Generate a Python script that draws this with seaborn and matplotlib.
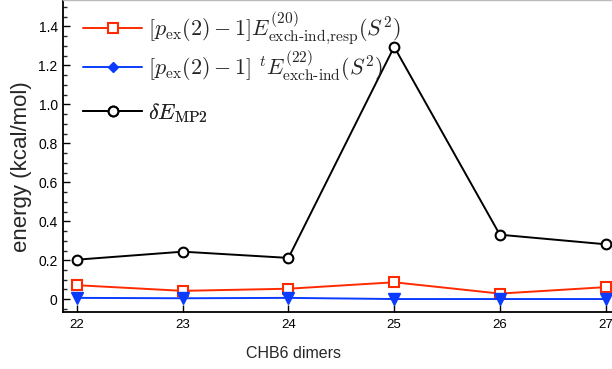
import numpy as np
import pandas as pd
import seaborn as sns
import matplotlib
matplotlib.use("Agg")
import matplotlib.pyplot as plt
from matplotlib.lines import Line2D
from matplotlib.ticker import MultipleLocator, FuncFormatter

dimers = [22, 23, 24, 25, 26, 27]
resp_vals = [0.072, 0.043, 0.054, 0.087, 0.029, 0.062]
ind22_vals = [0.007, 0.005, 0.007, 0.001, 0.001, 0.001]
mp2_vals = [0.203, 0.244, 0.212, 1.295, 0.331, 0.282]

labels = [
    r'$[p_{\rm ex}(2)-1]E^{(20)}_{\text{exch-ind,resp}}(S^2)$',
    r'$[p_{\rm ex}(2)-1]\ {}^tE^{(22)}_{\text{exch-ind}}(S^2)$',
    r'$\delta E_{\rm MP2}$',
]

sns.set_style("white")
plt.rcParams['font.family'] = ['Liberation Sans', 'DejaVu Sans']
plt.rcParams['mathtext.fontset'] = 'cm'

W_AX = 0.95 * 612
H_AX = 312.3
fig = plt.figure(figsize=(6.12, 3.69), dpi=100)
ax = fig.add_axes([63.3 / 612, 1 - H_AX / 369, 0.95, H_AX / 369])

df = pd.DataFrame({"x": dimers, "resp": resp_vals, "ind": ind22_vals, "mp2": mp2_vals})

red = '#ff2a00'
blue = '#0a3cff'
lw = 1.4
sns.lineplot(data=df, x="x", y="resp", ax=ax, color=red, lw=lw, marker='s',
             markersize=7, markerfacecolor='white', markeredgecolor=red, markeredgewidth=1.5)
sns.lineplot(data=df, x="x", y="ind", ax=ax, color=blue, lw=lw, marker='v',
             markersize=8, markerfacecolor=blue, markeredgecolor=blue, markeredgewidth=1)
sns.lineplot(data=df, x="x", y="mp2", ax=ax, color='black', lw=lw, marker='o',
             markersize=7, markerfacecolor='white', markeredgecolor='black', markeredgewidth=1.5)

ax.set_xlim(21.87, 21.87 + W_AX / 105.7)
ax.set_ylim(-0.067, 1.535)
ax.set_xticks(dimers)
ax.yaxis.set_major_locator(MultipleLocator(0.2))
ax.yaxis.set_minor_locator(MultipleLocator(0.05))
ax.yaxis.set_major_formatter(FuncFormatter(lambda v, p: '0' if abs(v) < 1e-9 else '%.1f' % v))

ax.tick_params(axis='both', which='major', direction='in', length=5, width=1, colors='black')
ax.tick_params(axis='y', which='major', labelsize=10, pad=4)
ax.tick_params(axis='x', which='major', labelsize=9.5, pad=5)
ax.tick_params(axis='y', which='minor', direction='in', length=3, width=1, left=True)
ax.tick_params(left=True, bottom=True, right=False, top=False)

for s in ['left', 'bottom']:
    ax.spines[s].set_color('black')
    ax.spines[s].set_linewidth(1.3)
ax.spines['top'].set_color('#bbbbbb')
ax.spines['top'].set_linewidth(1)
ax.spines['right'].set_visible(False)

ax.set_xlabel('CHB6 dimers', fontsize=11.5)
ax.set_ylabel('energy (kcal/mol)', fontsize=16)
ax.xaxis.set_label_coords((293 - 63.3) / W_AX, -33.4 / H_AX)
ax.yaxis.set_label_coords(-(63.3 - 32) / W_AX, 0.5 + (156 - 166) / H_AX)

handles = [
    Line2D([], [], color=red, lw=lw, marker='s', markersize=7, markerfacecolor='white',
           markeredgecolor=red, markeredgewidth=1.5),
    Line2D([], [], color=blue, lw=lw, marker='D', markersize=5, markerfacecolor=blue,
           markeredgecolor=blue),
    Line2D([], [], color='black', lw=lw, marker='o', markersize=7, markerfacecolor='white',
           markeredgecolor='black', markeredgewidth=1.5),
]
fs = 15.9
row_y = [25, 67, 110]      # target pixel rows of the legend lines (from top)
row_shift = [3, -1, 3]
for h, lab, yy, sh in zip(handles, labels, row_y, row_shift):
    leg = ax.legend([h], [lab], loc='center left',
                    bbox_to_anchor=((83 - 63.3) / W_AX, 1 - (yy + sh) / H_AX), frameon=False,
                    fontsize=fs, handlelength=59 / (fs * 100 / 72),
                    handletextpad=6 / (fs * 100 / 72), borderaxespad=0, borderpad=0)
    ax.add_artist(leg)

fig.savefig('out.png', dpi=100)
